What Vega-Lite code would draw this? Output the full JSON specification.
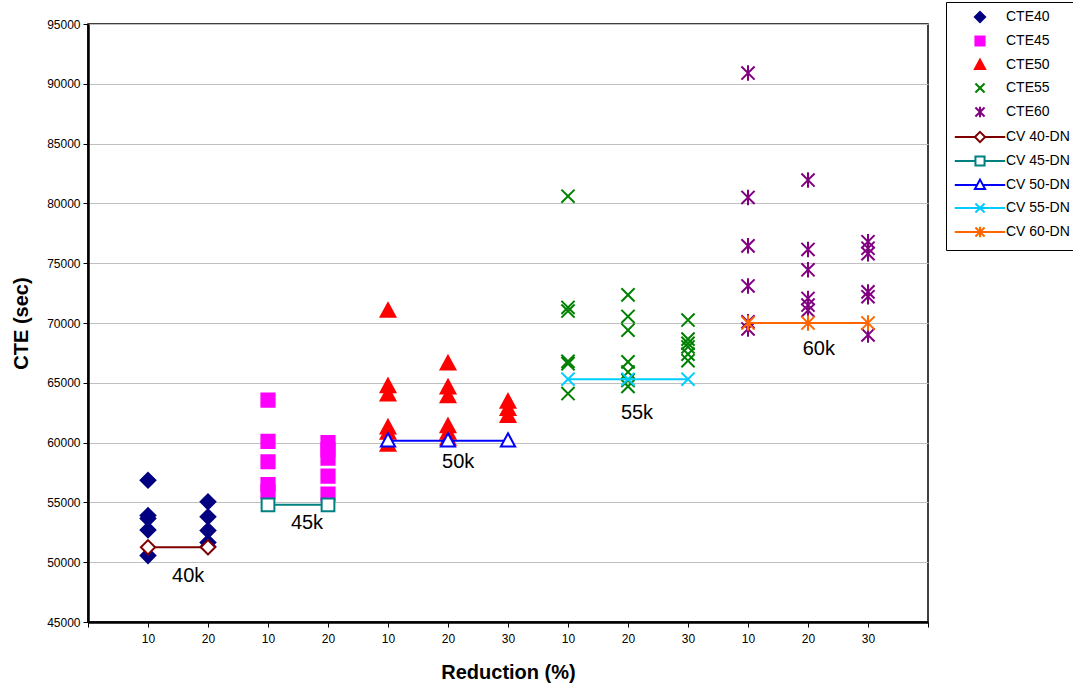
{
  "$schema": "https://vega.github.io/schema/vega-lite/v6.json",
  "width": 840,
  "height": 598,
  "autosize": "none",
  "padding": {"left": 88, "top": 24, "right": 145, "bottom": 68},
  "background": "white",
  "config": {
    "font": "Liberation Sans",
    "view": {"stroke": "black", "strokeWidth": 1.5},
    "axis": {
      "labelFont": "Liberation Sans",
      "titleFont": "Liberation Sans",
      "labelColor": "black",
      "titleColor": "black",
      "tickColor": "black",
      "domainColor": "black",
      "domainWidth": 2.5,
      "tickSize": 5,
      "labelFontSize": 12,
      "titleFontSize": 20,
      "titleFontWeight": "bold"
    }
  },
  "datasets": {
    "cte": [
      {"series": "CTE40", "pos": 1, "cte": 56850},
      {"series": "CTE40", "pos": 1, "cte": 53900},
      {"series": "CTE40", "pos": 1, "cte": 53650},
      {"series": "CTE40", "pos": 1, "cte": 52700},
      {"series": "CTE40", "pos": 1, "cte": 50550},
      {"series": "CTE40", "pos": 2, "cte": 55050},
      {"series": "CTE40", "pos": 2, "cte": 53800},
      {"series": "CTE40", "pos": 2, "cte": 52650},
      {"series": "CTE40", "pos": 2, "cte": 51650},
      {"series": "CTE40", "pos": 2, "cte": 51300},
      {"series": "CTE45", "pos": 3, "cte": 63550},
      {"series": "CTE45", "pos": 3, "cte": 60100},
      {"series": "CTE45", "pos": 3, "cte": 58400},
      {"series": "CTE45", "pos": 3, "cte": 56500},
      {"series": "CTE45", "pos": 3, "cte": 55900},
      {"series": "CTE45", "pos": 4, "cte": 60000},
      {"series": "CTE45", "pos": 4, "cte": 59400},
      {"series": "CTE45", "pos": 4, "cte": 58700},
      {"series": "CTE45", "pos": 4, "cte": 57200},
      {"series": "CTE45", "pos": 4, "cte": 55700},
      {"series": "CTE50", "pos": 5, "cte": 71000},
      {"series": "CTE50", "pos": 5, "cte": 64700},
      {"series": "CTE50", "pos": 5, "cte": 64000},
      {"series": "CTE50", "pos": 5, "cte": 61250},
      {"series": "CTE50", "pos": 5, "cte": 60800},
      {"series": "CTE50", "pos": 5, "cte": 59800},
      {"series": "CTE50", "pos": 6, "cte": 66600},
      {"series": "CTE50", "pos": 6, "cte": 64600},
      {"series": "CTE50", "pos": 6, "cte": 63850},
      {"series": "CTE50", "pos": 6, "cte": 61350},
      {"series": "CTE50", "pos": 6, "cte": 60800},
      {"series": "CTE50", "pos": 6, "cte": 60300},
      {"series": "CTE50", "pos": 7, "cte": 63400},
      {"series": "CTE50", "pos": 7, "cte": 62800},
      {"series": "CTE50", "pos": 7, "cte": 62200},
      {"series": "CTE55", "pos": 8, "cte": 80600},
      {"series": "CTE55", "pos": 8, "cte": 71300},
      {"series": "CTE55", "pos": 8, "cte": 71000},
      {"series": "CTE55", "pos": 8, "cte": 66800},
      {"series": "CTE55", "pos": 8, "cte": 66600},
      {"series": "CTE55", "pos": 8, "cte": 64100},
      {"series": "CTE55", "pos": 9, "cte": 72350},
      {"series": "CTE55", "pos": 9, "cte": 70550},
      {"series": "CTE55", "pos": 9, "cte": 69400},
      {"series": "CTE55", "pos": 9, "cte": 66750},
      {"series": "CTE55", "pos": 9, "cte": 65900},
      {"series": "CTE55", "pos": 9, "cte": 65200},
      {"series": "CTE55", "pos": 9, "cte": 64700},
      {"series": "CTE55", "pos": 10, "cte": 70250},
      {"series": "CTE55", "pos": 10, "cte": 68650},
      {"series": "CTE55", "pos": 10, "cte": 68300},
      {"series": "CTE55", "pos": 10, "cte": 68000},
      {"series": "CTE55", "pos": 10, "cte": 67400},
      {"series": "CTE55", "pos": 10, "cte": 66850},
      {"series": "CTE60", "pos": 11, "cte": 90900},
      {"series": "CTE60", "pos": 11, "cte": 80500},
      {"series": "CTE60", "pos": 11, "cte": 76450},
      {"series": "CTE60", "pos": 11, "cte": 73100},
      {"series": "CTE60", "pos": 11, "cte": 70100},
      {"series": "CTE60", "pos": 11, "cte": 69500},
      {"series": "CTE60", "pos": 12, "cte": 81950},
      {"series": "CTE60", "pos": 12, "cte": 76150},
      {"series": "CTE60", "pos": 12, "cte": 74450},
      {"series": "CTE60", "pos": 12, "cte": 72050},
      {"series": "CTE60", "pos": 12, "cte": 71500},
      {"series": "CTE60", "pos": 12, "cte": 71050},
      {"series": "CTE60", "pos": 13, "cte": 76800},
      {"series": "CTE60", "pos": 13, "cte": 76250},
      {"series": "CTE60", "pos": 13, "cte": 75800},
      {"series": "CTE60", "pos": 13, "cte": 72600},
      {"series": "CTE60", "pos": 13, "cte": 72200},
      {"series": "CTE60", "pos": 13, "cte": 69000}
    ],
    "cv": [
      {"series": "CV 40-DN", "pos": 1, "cte": 51250},
      {"series": "CV 40-DN", "pos": 2, "cte": 51250},
      {"series": "CV 45-DN", "pos": 3, "cte": 54800},
      {"series": "CV 45-DN", "pos": 4, "cte": 54800},
      {"series": "CV 50-DN", "pos": 5, "cte": 60150},
      {"series": "CV 50-DN", "pos": 6, "cte": 60150},
      {"series": "CV 50-DN", "pos": 7, "cte": 60150},
      {"series": "CV 55-DN", "pos": 8, "cte": 65300},
      {"series": "CV 55-DN", "pos": 9, "cte": 65300},
      {"series": "CV 55-DN", "pos": 10, "cte": 65300},
      {"series": "CV 60-DN", "pos": 11, "cte": 70000},
      {"series": "CV 60-DN", "pos": 12, "cte": 70000},
      {"series": "CV 60-DN", "pos": 13, "cte": 70000}
    ],
    "notes": [
      {"label": "40k", "pos": 1.67, "cte": 48830},
      {"label": "45k", "pos": 3.65, "cte": 53300},
      {"label": "50k", "pos": 6.17, "cte": 58380},
      {"label": "55k", "pos": 9.15, "cte": 62510},
      {"label": "60k", "pos": 12.18, "cte": 67810}
    ]
  },
  "encoding": {
    "x": {
      "field": "pos",
      "type": "quantitative",
      "scale": {"domain": [0, 14], "nice": false, "zero": false},
      "axis": {
        "values": [0, 1, 2, 3, 4, 5, 6, 7, 8, 9, 10, 11, 12, 13, 14],
        "labelExpr": "['', '10', '20', '10', '20', '10', '20', '30', '10', '20', '30', '10', '20', '30', ''][datum.value]",
        "grid": false,
        "labelPadding": 6,
        "title": "Reduction (%)",
        "titlePadding": 18
      }
    },
    "y": {
      "field": "cte",
      "type": "quantitative",
      "scale": {"domain": [45000, 95000], "nice": false, "zero": false},
      "axis": {
        "values": [45000, 50000, 55000, 60000, 65000, 70000, 75000, 80000, 85000, 90000, 95000],
        "format": "d",
        "grid": true,
        "gridColor": "#c0c0c0",
        "gridWidth": 1,
        "labelPadding": 3,
        "title": "CTE (sec)",
        "titlePadding": 15
      }
    }
  },
  "layer": [
    {
      "data": {"name": "cte"},
      "mark": {"type": "point", "filled": true, "size": 240, "strokeWidth": 2, "opacity": 1},
      "encoding": {
        "fill": {
          "field": "series",
          "type": "nominal",
          "scale": {
            "domain": ["CTE40", "CTE45", "CTE50", "CTE55", "CTE60", "CV 40-DN", "CV 45-DN", "CV 50-DN", "CV 55-DN", "CV 60-DN"],
            "range": ["#000080", "#ff00ff", "#ff0000", "#008000", "#800080", "white", "white", "white", "white", "white"]
          },
          "legend": {
            "title": null,
            "orient": "none",
            "legendX": 858,
            "legendY": -22,
            "strokeColor": "black",
            "fillColor": "white",
            "padding": 8,
            "rowPadding": 5,
            "labelFontSize": 14,
            "labelFont": "Liberation Sans",
            "labelColor": "black",
            "symbolSize": 115,
            "symbolStrokeWidth": 2,
            "symbolOffset": 19,
            "labelOffset": 19
          }
        },
        "stroke": {
          "field": "series",
          "type": "nominal",
          "scale": {
            "domain": ["CTE40", "CTE45", "CTE50", "CTE55", "CTE60", "CV 40-DN", "CV 45-DN", "CV 50-DN", "CV 55-DN", "CV 60-DN"],
            "range": ["#000080", "#ff00ff", "#ff0000", "#008000", "#800080", "#800000", "#008080", "#0000ff", "#00ccff", "#ff6600"]
          }
        },
        "shape": {
          "field": "series",
          "type": "nominal",
          "scale": {
            "domain": ["CTE40", "CTE45", "CTE50", "CTE55", "CTE60", "CV 40-DN", "CV 45-DN", "CV 50-DN", "CV 55-DN", "CV 60-DN"],
            "range": [
              "M0,-0.95L0.95,0L0,0.95L-0.95,0Z",
              "M-0.85,-0.85H0.85V0.85H-0.85Z",
              "M0,-1L0.95,0.75L-0.95,0.75Z",
              "M-0.85,-0.85L0.85,0.85M-0.85,0.85L0.85,-0.85",
              "M-0.85,-0.85L0.85,0.85M-0.85,0.85L0.85,-0.85M0,-1V1",
              "M-4.7,0H-0.95M0.95,0H4.7M0,-0.95L0.95,0L0,0.95L-0.95,0Z",
              "M-4.7,0H-0.85M0.85,0H4.7M-0.85,-0.85H0.85V0.85H-0.85Z",
              "M-4.7,0H-0.54M0.54,0H4.7M0,-1L0.95,0.75L-0.95,0.75Z",
              "M-4.7,0H4.7M-0.85,-0.85L0.85,0.85M-0.85,0.85L0.85,-0.85",
              "M-4.7,0H4.7M-0.85,-0.85L0.85,0.85M-0.85,0.85L0.85,-0.85M0,-1V1"
            ]
          }
        }
      }
    },
    {
      "data": {"name": "cv"},
      "mark": {"type": "line", "strokeWidth": 2},
      "encoding": {
        "stroke": {"field": "series", "type": "nominal", "legend": null}
      }
    },
    {
      "data": {"name": "cv"},
      "transform": [{"filter": "datum.series === 'CV 40-DN'"}],
      "mark": {"type": "point", "shape": "M0,-0.95L0.95,0L0,0.95L-0.95,0Z", "size": 225, "filled": true, "fill": "white", "strokeWidth": 2, "opacity": 1},
      "encoding": {"stroke": {"field": "series", "type": "nominal", "legend": null}}
    },
    {
      "data": {"name": "cv"},
      "transform": [{"filter": "datum.series === 'CV 45-DN'"}],
      "mark": {"type": "point", "shape": "M-0.85,-0.85H0.85V0.85H-0.85Z", "size": 225, "filled": true, "fill": "white", "strokeWidth": 2, "opacity": 1},
      "encoding": {"stroke": {"field": "series", "type": "nominal", "legend": null}}
    },
    {
      "data": {"name": "cv"},
      "transform": [{"filter": "datum.series === 'CV 50-DN'"}],
      "mark": {"type": "point", "shape": "M0,-1L0.95,0.75L-0.95,0.75Z", "size": 225, "filled": true, "fill": "white", "strokeWidth": 2, "opacity": 1},
      "encoding": {"stroke": {"field": "series", "type": "nominal", "legend": null}}
    },
    {
      "data": {"name": "cv"},
      "transform": [{"filter": "datum.series === 'CV 55-DN'"}],
      "mark": {"type": "point", "shape": "M-0.85,-0.85L0.85,0.85M-0.85,0.85L0.85,-0.85", "size": 240, "filled": true, "fill": "white", "strokeWidth": 2, "opacity": 1},
      "encoding": {"stroke": {"field": "series", "type": "nominal", "legend": null}}
    },
    {
      "data": {"name": "cv"},
      "transform": [{"filter": "datum.series === 'CV 60-DN'"}],
      "mark": {"type": "point", "shape": "M-0.85,-0.85L0.85,0.85M-0.85,0.85L0.85,-0.85M0,-1V1", "size": 240, "filled": true, "fill": "white", "strokeWidth": 2, "opacity": 1},
      "encoding": {"stroke": {"field": "series", "type": "nominal", "legend": null}}
    },
    {
      "data": {"name": "notes"},
      "mark": {"type": "text", "fontSize": 20, "font": "Liberation Sans", "color": "black", "align": "center", "baseline": "middle"},
      "encoding": {"text": {"field": "label", "type": "nominal"}}
    }
  ]
}
